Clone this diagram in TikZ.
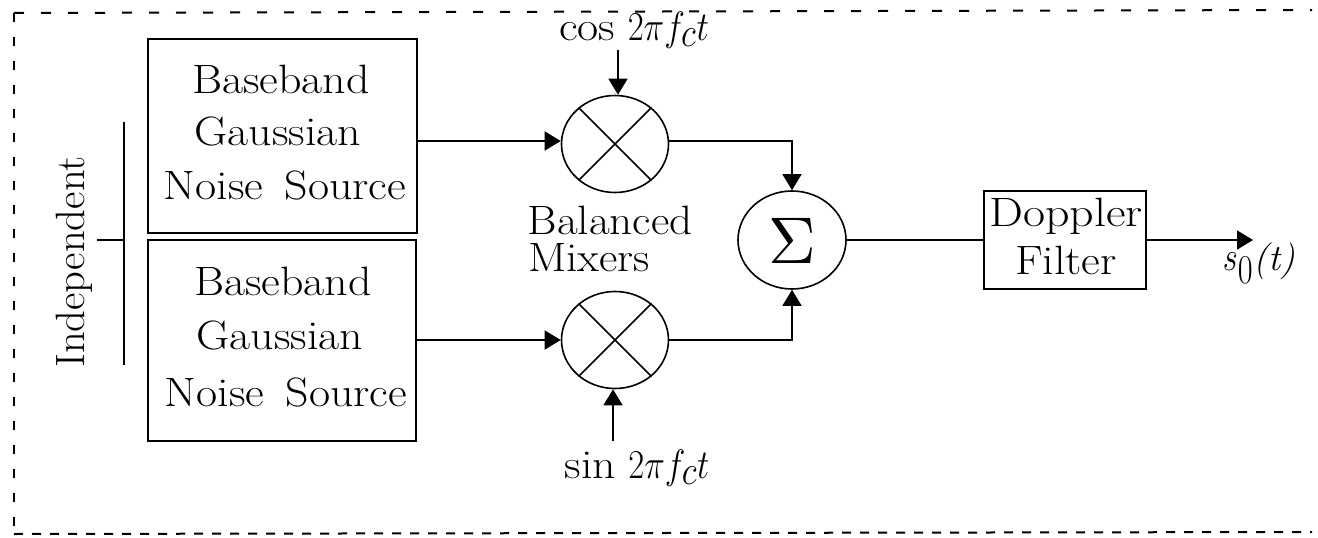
\documentclass[tikz,border=0pt]{standalone}
\usetikzlibrary{arrows.meta,shapes.geometric}
\newcommand{\wdt}[2][1.12]{\scalebox{#1}[1]{#2}}
\newcommand{\mth}[2]{\scalebox{#1}{$#2$}}
\newcommand{\mtw}[2]{\scalebox{#1}[1.65]{$#2$}}
\tikzset{
 box/.style={draw,line width=1.5pt,inner sep=0pt},
 lab/.style={font=\fontsize{41}{46}\selectfont,align=center,inner sep=0pt,anchor=center},
 wire/.style={line width=1.5pt},
 arr/.style={wire,-{Triangle[length=16pt,width=19pt]}},
 mix/.style={draw,ellipse,line width=1.6pt,inner sep=0pt,minimum width=107pt,minimum height=97pt},
}
\begin{document}
\begin{tikzpicture}[x=1pt,y=-1pt]
\useasboundingbox (0,0) rectangle (1318,538);
\coordinate (tl) at (14,13); \coordinate (tr) at (1312,10);
\coordinate (bl) at (14,534); \coordinate (br) at (1312,532);
\draw[line width=2pt,dash pattern=on 9pt off 15pt] (tl) -- (bl);
\draw[line width=2pt,dash pattern=on 10pt off 17pt] (tl) -- (tr);
\draw[line width=2pt,dash pattern=on 9pt off 9pt] (bl) -- (br);
\node[box,minimum width=269pt,minimum height=194pt] (b1) at (282.5,136) {};
\node[box,minimum width=268pt,minimum height=201pt] (b2) at (282,340.5) {};
\node[lab] (t1) at (281,79) {\wdt{Baseband}};
\node[lab] (t2) at (278,131) {\wdt{Gaussian}};
\node[lab] (t3) at (285,185) {\wdt{Noise\, Source}};
\node[lab] (t4) at (283,281) {\wdt{Baseband}};
\node[lab] (t5) at (280,335) {\wdt{Gaussian}};
\node[lab] (t6) at (286,392) {\wdt{Noise\, Source}};
\node[lab,rotate=90] (ind) at (74,262) {\wdt[1.04]{Independent}};
\coordinate (v1) at (124,122); \coordinate (v2) at (124,365); \coordinate (v0) at (97,240); \coordinate (v3) at (124,240);
\draw[wire] (v1) -- (v2);
\draw[wire] (v0) -- (v3);
\node[mix] (m1) at (615,144) {};
\node[mix] (m2) at (615,340) {};
\foreach \m in {m1,m2}{
 \draw[wire] (\m.45) -- (\m.225);
 \draw[wire] (\m.135) -- (\m.315);
}
\node[mix,minimum width=108pt,minimum height=98pt] (s) at (792,240) {};
\node[inner sep=0pt] (sg) at (792,241) {\mth{6.6}{\Sigma}};
\node[box,minimum width=162pt,minimum height=98pt] (d) at (1065,240) {};
\node[lab] (d1) at (1066,216) {\wdt[1.17]{Doppler}};
\node[lab] (d2) at (1066,260) {\wdt{Filter}};
\node[lab] (mx) at (610,220) {\wdt[1.1]{Balanced}};
\node[lab] (mx2) at (589,258) {\wdt[1.1]{Mixers}};
\node[lab] (c) at (634,30) {\wdt{cos} \mtw{1.4}{2\pi f_c t}};
\node[lab] (sn) at (637,468) {\wdt{sin} \mtw{1.4}{2\pi f_c t}};
\node[lab] (so) at (1259,263) {\mtw{1.3}{s_0}{\fontsize{37}{40}\selectfont\textit{(t)}}};
\coordinate (e) at (1253,240);
\coordinate (c0) at (618,50); \coordinate (s0) at (613,441);
\coordinate (j1) at (792,141); \coordinate (j2) at (792,340);
\draw[arr] (b1.east |- j1) -- (m1.west |- j1);
\draw[arr] (b2.east |- j2) -- (m2.west |- j2);
\draw[arr] (c0) -- (c0 |- m1.north);
\draw[arr] (s0) -- (s0 |- m2.south);
\draw[arr] (m1.east |- j1) -- (j1) -- (s);
\draw[arr] (m2.east |- j2) -- (j2) -- (s);
\draw[wire] (s) -- (d);
\draw[arr] (d) -- (e);
\end{tikzpicture}
\end{document}
